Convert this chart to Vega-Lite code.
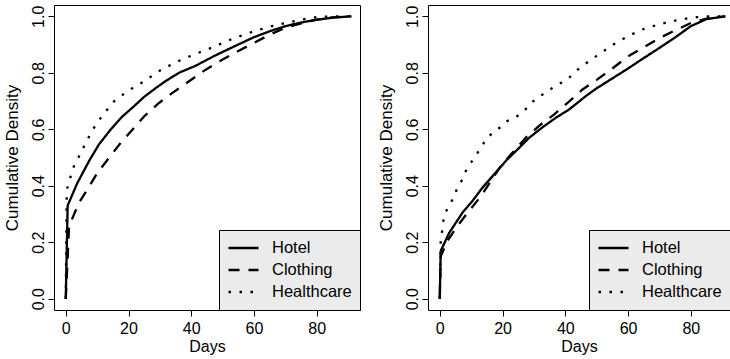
{
  "$schema": "https://vega.github.io/schema/vega-lite/v6.json",
  "padding": {"left": 2, "top": 4, "right": 0, "bottom": 0},
  "background": "white",
  "spacing": 16,
  "config": {
    "font": "Liberation Sans",
    "axis": {
      "labelFont": "Liberation Sans", "titleFont": "Liberation Sans",
      "labelFontSize": 16, "titleFontSize": 16.5, "titleFontWeight": "normal",
      "labelColor": "black", "titleColor": "black", "tickColor": "black", "domainColor": "black",
      "tickSize": 6, "labelPadding": 5, "grid": false, "labelFlush": false, "labelOverlap": false
    },
    "legend": {
      "labelFont": "Liberation Sans", "labelFontSize": 16.5, "labelColor": "black",
      "fillColor": "#ebebeb", "strokeColor": "black", "padding": 8,
      "labelOffset": 12, "symbolType": "stroke", "symbolStrokeColor": "black",
      "symbolStrokeWidth": 2.3, "symbolSize": 900, "clipHeight": 20, "rowPadding": 2
    },
    "line": {"color": "black", "strokeWidth": 2.3},
    "view": {"stroke": "black"}
  },
  "datasets": {
    "left": [
      {"sector": "Hotel", "days": 0, "cdf": 0},
      {"sector": "Hotel", "days": 0.6, "cdf": 0.33},
      {"sector": "Hotel", "days": 3.7, "cdf": 0.41},
      {"sector": "Hotel", "days": 7.4, "cdf": 0.487},
      {"sector": "Hotel", "days": 10.5, "cdf": 0.545},
      {"sector": "Hotel", "days": 14.3, "cdf": 0.599},
      {"sector": "Hotel", "days": 18, "cdf": 0.645},
      {"sector": "Hotel", "days": 21.8, "cdf": 0.682},
      {"sector": "Hotel", "days": 25, "cdf": 0.715},
      {"sector": "Hotel", "days": 28.7, "cdf": 0.746},
      {"sector": "Hotel", "days": 32, "cdf": 0.772},
      {"sector": "Hotel", "days": 36.1, "cdf": 0.8},
      {"sector": "Hotel", "days": 41.4, "cdf": 0.825},
      {"sector": "Hotel", "days": 47.6, "cdf": 0.861},
      {"sector": "Hotel", "days": 54, "cdf": 0.895},
      {"sector": "Hotel", "days": 60, "cdf": 0.926},
      {"sector": "Hotel", "days": 65, "cdf": 0.947},
      {"sector": "Hotel", "days": 70, "cdf": 0.965},
      {"sector": "Hotel", "days": 75, "cdf": 0.978},
      {"sector": "Hotel", "days": 80, "cdf": 0.988},
      {"sector": "Hotel", "days": 85, "cdf": 0.995},
      {"sector": "Hotel", "days": 91, "cdf": 1.0},
      {"sector": "Clothing", "days": 0, "cdf": 0},
      {"sector": "Clothing", "days": 1.06, "cdf": 0.257},
      {"sector": "Clothing", "days": 4.2, "cdf": 0.34},
      {"sector": "Clothing", "days": 6.9, "cdf": 0.387},
      {"sector": "Clothing", "days": 10.1, "cdf": 0.446},
      {"sector": "Clothing", "days": 13.8, "cdf": 0.499},
      {"sector": "Clothing", "days": 17.5, "cdf": 0.552},
      {"sector": "Clothing", "days": 21.3, "cdf": 0.599},
      {"sector": "Clothing", "days": 25, "cdf": 0.646},
      {"sector": "Clothing", "days": 29.7, "cdf": 0.693},
      {"sector": "Clothing", "days": 34, "cdf": 0.729},
      {"sector": "Clothing", "days": 39.3, "cdf": 0.77},
      {"sector": "Clothing", "days": 44.6, "cdf": 0.811},
      {"sector": "Clothing", "days": 50, "cdf": 0.847},
      {"sector": "Clothing", "days": 55, "cdf": 0.877},
      {"sector": "Clothing", "days": 60, "cdf": 0.906},
      {"sector": "Clothing", "days": 65, "cdf": 0.935},
      {"sector": "Clothing", "days": 70, "cdf": 0.959},
      {"sector": "Clothing", "days": 75, "cdf": 0.975},
      {"sector": "Clothing", "days": 80, "cdf": 0.988},
      {"sector": "Clothing", "days": 85, "cdf": 0.996},
      {"sector": "Clothing", "days": 91, "cdf": 1.0},
      {"sector": "Healthcare", "days": 0, "cdf": 0},
      {"sector": "Healthcare", "days": 0.3, "cdf": 0.37},
      {"sector": "Healthcare", "days": 0.6, "cdf": 0.4},
      {"sector": "Healthcare", "days": 2.6, "cdf": 0.469},
      {"sector": "Healthcare", "days": 4, "cdf": 0.499},
      {"sector": "Healthcare", "days": 6.9, "cdf": 0.564},
      {"sector": "Healthcare", "days": 9.6, "cdf": 0.617},
      {"sector": "Healthcare", "days": 12.5, "cdf": 0.66},
      {"sector": "Healthcare", "days": 15.4, "cdf": 0.699},
      {"sector": "Healthcare", "days": 19.7, "cdf": 0.735},
      {"sector": "Healthcare", "days": 25, "cdf": 0.77},
      {"sector": "Healthcare", "days": 30.3, "cdf": 0.81},
      {"sector": "Healthcare", "days": 35.6, "cdf": 0.84},
      {"sector": "Healthcare", "days": 41.4, "cdf": 0.867},
      {"sector": "Healthcare", "days": 46.8, "cdf": 0.89},
      {"sector": "Healthcare", "days": 53, "cdf": 0.92},
      {"sector": "Healthcare", "days": 60, "cdf": 0.947},
      {"sector": "Healthcare", "days": 65, "cdf": 0.963},
      {"sector": "Healthcare", "days": 70, "cdf": 0.976},
      {"sector": "Healthcare", "days": 75, "cdf": 0.988},
      {"sector": "Healthcare", "days": 80, "cdf": 0.997},
      {"sector": "Healthcare", "days": 85, "cdf": 1.0},
      {"sector": "Healthcare", "days": 91, "cdf": 1.0}
    ],
    "right": [
      {"sector": "Hotel", "days": 0, "cdf": 0},
      {"sector": "Hotel", "days": 0.3, "cdf": 0.169},
      {"sector": "Hotel", "days": 3.0, "cdf": 0.233},
      {"sector": "Hotel", "days": 7.2, "cdf": 0.304},
      {"sector": "Hotel", "days": 10.4, "cdf": 0.346},
      {"sector": "Hotel", "days": 13.6, "cdf": 0.393},
      {"sector": "Hotel", "days": 17.8, "cdf": 0.446},
      {"sector": "Hotel", "days": 21.5, "cdf": 0.493},
      {"sector": "Hotel", "days": 25.3, "cdf": 0.534},
      {"sector": "Hotel", "days": 28.5, "cdf": 0.57},
      {"sector": "Hotel", "days": 32.5, "cdf": 0.605},
      {"sector": "Hotel", "days": 36.9, "cdf": 0.64},
      {"sector": "Hotel", "days": 41.2, "cdf": 0.67},
      {"sector": "Hotel", "days": 46.5, "cdf": 0.717},
      {"sector": "Hotel", "days": 50, "cdf": 0.745},
      {"sector": "Hotel", "days": 55, "cdf": 0.78},
      {"sector": "Hotel", "days": 60, "cdf": 0.815},
      {"sector": "Hotel", "days": 65, "cdf": 0.852},
      {"sector": "Hotel", "days": 70, "cdf": 0.888},
      {"sector": "Hotel", "days": 75, "cdf": 0.925},
      {"sector": "Hotel", "days": 80, "cdf": 0.965},
      {"sector": "Hotel", "days": 85, "cdf": 0.99},
      {"sector": "Hotel", "days": 91, "cdf": 1.0},
      {"sector": "Clothing", "days": 0, "cdf": 0},
      {"sector": "Clothing", "days": 0.3, "cdf": 0.15},
      {"sector": "Clothing", "days": 2.4, "cdf": 0.204},
      {"sector": "Clothing", "days": 5.6, "cdf": 0.257},
      {"sector": "Clothing", "days": 9.3, "cdf": 0.31},
      {"sector": "Clothing", "days": 13.1, "cdf": 0.363},
      {"sector": "Clothing", "days": 16.3, "cdf": 0.416},
      {"sector": "Clothing", "days": 19.4, "cdf": 0.469},
      {"sector": "Clothing", "days": 23, "cdf": 0.515},
      {"sector": "Clothing", "days": 27.4, "cdf": 0.57},
      {"sector": "Clothing", "days": 32.2, "cdf": 0.617},
      {"sector": "Clothing", "days": 36.4, "cdf": 0.652},
      {"sector": "Clothing", "days": 40.7, "cdf": 0.693},
      {"sector": "Clothing", "days": 45.5, "cdf": 0.741},
      {"sector": "Clothing", "days": 50, "cdf": 0.775},
      {"sector": "Clothing", "days": 55, "cdf": 0.815},
      {"sector": "Clothing", "days": 60, "cdf": 0.858},
      {"sector": "Clothing", "days": 65, "cdf": 0.89},
      {"sector": "Clothing", "days": 70, "cdf": 0.923},
      {"sector": "Clothing", "days": 75, "cdf": 0.95},
      {"sector": "Clothing", "days": 80, "cdf": 0.976},
      {"sector": "Clothing", "days": 85, "cdf": 0.992},
      {"sector": "Clothing", "days": 91, "cdf": 1.0},
      {"sector": "Healthcare", "days": 0, "cdf": 0},
      {"sector": "Healthcare", "days": 0.3, "cdf": 0.2},
      {"sector": "Healthcare", "days": 1.4, "cdf": 0.298},
      {"sector": "Healthcare", "days": 3.0, "cdf": 0.328},
      {"sector": "Healthcare", "days": 4.6, "cdf": 0.363},
      {"sector": "Healthcare", "days": 5.6, "cdf": 0.393},
      {"sector": "Healthcare", "days": 7.2, "cdf": 0.422},
      {"sector": "Healthcare", "days": 8.3, "cdf": 0.452},
      {"sector": "Healthcare", "days": 9.9, "cdf": 0.481},
      {"sector": "Healthcare", "days": 13.1, "cdf": 0.534},
      {"sector": "Healthcare", "days": 14.7, "cdf": 0.564},
      {"sector": "Healthcare", "days": 16.8, "cdf": 0.587},
      {"sector": "Healthcare", "days": 19.4, "cdf": 0.608},
      {"sector": "Healthcare", "days": 21.5, "cdf": 0.629},
      {"sector": "Healthcare", "days": 24.2, "cdf": 0.643},
      {"sector": "Healthcare", "days": 26.9, "cdf": 0.664},
      {"sector": "Healthcare", "days": 28.5, "cdf": 0.688},
      {"sector": "Healthcare", "days": 31.1, "cdf": 0.711},
      {"sector": "Healthcare", "days": 33.6, "cdf": 0.729},
      {"sector": "Healthcare", "days": 35.9, "cdf": 0.746},
      {"sector": "Healthcare", "days": 38.6, "cdf": 0.764},
      {"sector": "Healthcare", "days": 41.2, "cdf": 0.782},
      {"sector": "Healthcare", "days": 43.3, "cdf": 0.805},
      {"sector": "Healthcare", "days": 45.7, "cdf": 0.826},
      {"sector": "Healthcare", "days": 50, "cdf": 0.86},
      {"sector": "Healthcare", "days": 55, "cdf": 0.898},
      {"sector": "Healthcare", "days": 60, "cdf": 0.93},
      {"sector": "Healthcare", "days": 65, "cdf": 0.955},
      {"sector": "Healthcare", "days": 70, "cdf": 0.972},
      {"sector": "Healthcare", "days": 75, "cdf": 0.985},
      {"sector": "Healthcare", "days": 80, "cdf": 0.995},
      {"sector": "Healthcare", "days": 85, "cdf": 1.0},
      {"sector": "Healthcare", "days": 91, "cdf": 1.0}
    ]
  },
  "hconcat": [
    {
      "width": 306,
      "height": 305,
      "data": {"name": "left"},
      "mark": {"type": "line", "clip": true},
      "encoding": {
        "x": {"field": "days", "type": "quantitative",
          "scale": {"domain": [-3.75, 93.78], "nice": false, "zero": false},
          "axis": {"title": "Days", "values": [0, 20, 40, 60, 80], "domain": false, "labelPadding": 4, "titlePadding": 2, "titleFontSize": 16}},
        "y": {"field": "cdf", "type": "quantitative",
          "scale": {"domain": [-0.04, 1.04], "nice": false, "zero": false},
          "axis": {"title": "Cumulative Density", "values": [0, 0.2, 0.4, 0.6, 0.8, 1], "format": ".1f",
            "labelAngle": 270, "labelAlign": "center", "labelBaseline": "alphabetic", "domain": false, "titlePadding": 9, "titleFontSize": 17}},
        "strokeDash": {"field": "sector", "type": "nominal",
          "scale": {"domain": ["Hotel", "Clothing", "Healthcare"], "range": [[1, 0], [11, 9], [2.5, 8.5]]},
          "legend": {"title": null, "orient": "bottom-right", "offset": 0}}
      }
    },
    {
      "width": 302,
      "height": 305,
      "view": {"stroke": null},
      "data": {"name": "right"},
      "layer": [
        {
          "mark": {"type": "line", "clip": true},
          "encoding": {
            "x": {"field": "days", "type": "quantitative",
              "scale": {"domain": [-3.75, 92.5], "nice": false, "zero": false},
              "axis": {"title": "Days", "values": [0, 20, 40, 60, 80], "domain": true, "labelPadding": 4, "titlePadding": 2, "titleFontSize": 16}},
            "y": {"field": "cdf", "type": "quantitative",
              "scale": {"domain": [-0.04, 1.04], "nice": false, "zero": false},
              "axis": {"title": "Cumulative Density", "values": [0, 0.2, 0.4, 0.6, 0.8, 1], "format": ".1f",
                "labelAngle": 270, "labelAlign": "center", "labelBaseline": "alphabetic", "domain": true, "titlePadding": 9, "titleFontSize": 17}},
            "strokeDash": {"field": "sector", "type": "nominal",
              "scale": {"domain": ["Hotel", "Clothing", "Healthcare"], "range": [[1, 0], [11, 9], [2.5, 8.5]]},
              "legend": {"title": null, "orient": "bottom-right", "offset": 0}}
          }
        },
        {
          "mark": {"type": "rule", "opacity": 0},
          "encoding": {
            "x": {"field": "days", "type": "quantitative",
              "axis": {"orient": "top", "labels": false, "ticks": false, "title": null, "domain": true}}
          }
        }
      ],
      "resolve": {"axis": {"x": "independent"}}
    }
  ],
  "resolve": {
    "scale": {"x": "independent", "strokeDash": "independent"},
    "legend": {"strokeDash": "independent"}
  }
}
